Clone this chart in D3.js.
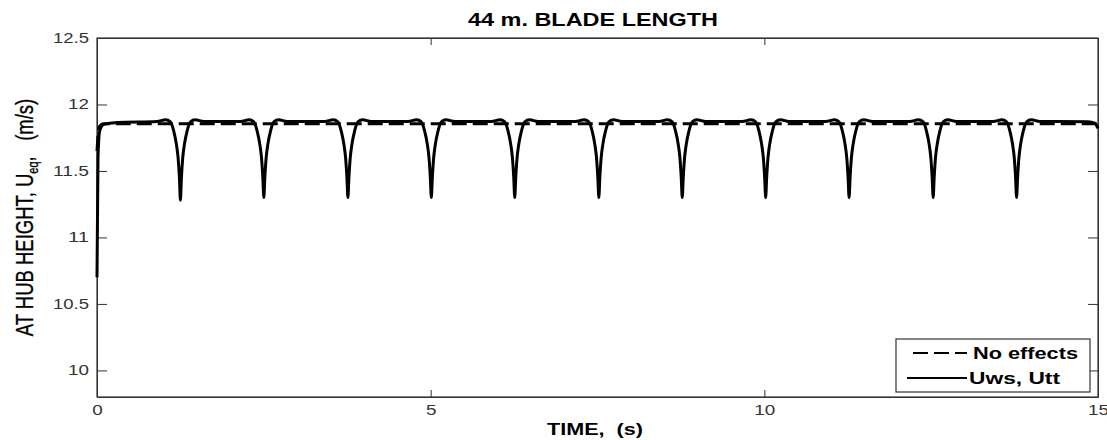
<!DOCTYPE html>
<html>
<head>
<meta charset="utf-8">
<script src="https://cdn.jsdelivr.net/npm/d3@7"></script>
<style>
  body { margin: 0; background: #fff; }
  svg { display: block; font-family: "Liberation Sans", Arial, sans-serif; }
</style>
</head>
<body>
<div id="chart"></div>
<script>
// ---- data ----
var xTicks = [0, 5, 10, 15];
var yTicks = [10, 10.5, 11, 11.5, 12, 12.5];

// "No effects" (dashed)
var noEffTime  = [0, 0.03, 0.1, 15];
var noEffValue = [11.65, 11.83, 11.855, 11.855];

// "Uws, Utt" (solid): start-up, periodic tower dips, end
var startTime  = [0, 0.015, 0.04, 0.1, 0.3];
var startValue = [10.70, 11.60, 11.80, 11.85, 11.865];
var dipTimes   = [1.25, 2.50, 3.76, 5.01, 6.26, 7.52, 8.77, 10.02, 11.27, 12.53, 13.78];
var dipMins    = [11.28, 11.30, 11.30, 11.30, 11.30, 11.30, 11.30, 11.30, 11.30, 11.30, 11.30];
var dipOffset  = [-0.35, -0.22, -0.15, -0.10, -0.06, -0.035, -0.015, 0, 0.015, 0.035, 0.06, 0.10, 0.15, 0.22, 0.35];
var dipShape   = [11.872, 11.885, 11.87, 11.80, 11.70, 11.60, 11.45, null, 11.45, 11.60, 11.70, 11.80, 11.87, 11.885, 11.872];
var endTime    = [14.4, 14.85, 14.95, 15];
var endValue   = [11.872, 11.87, 11.86, 11.82];

(function() {
  var W = 1107, H = 440;
  var margin = {top: 38, right: 9, bottom: 43, left: 97},
      width = W - margin.left - margin.right,
      height = H - margin.top - margin.bottom;

  var svg = d3.select("#chart").append("svg")
      .attr("width", W)
      .attr("height", H);

  var g = svg.append("g")
      .attr("transform", "translate(" + margin.left + "," + margin.top + ")");

  var x = d3.scaleLinear().domain([0, 15]).range([0, width]);
  var y = d3.scaleLinear().domain([9.8, 12.5]).range([height, 0]);

  // build the solid series from the read arrays
  var solid = startTime.map(function(t, i) { return {t: t, v: startValue[i]}; });
  dipTimes.forEach(function(c, k) {
    dipOffset.forEach(function(o, j) {
      solid.push({t: c + o, v: dipShape[j] === null ? dipMins[k] : dipShape[j]});
    });
  });
  endTime.forEach(function(t, i) { solid.push({t: t, v: endValue[i]}); });

  var dashed = noEffTime.map(function(t, i) { return {t: t, v: noEffValue[i]}; });

  var line = d3.line()
    .x(function(d) { return x(d.t); })
    .y(function(d) { return y(d.v); })
    .curve(d3.curveMonotoneX);

  // the original figure is stretched sideways, so text gets a wider length
  function labelWidth(s) {
    var w = 0;
    for (var i = 0; i < s.length; i++) w += (s[i] === "." ? 4.5 : 10.5);
    return w;
  }

  var axisColor = "#333";

  // axes: ticks pointing inward on all four sides
  g.append("g")
    .attr("transform", "translate(0," + height + ")")
    .call(d3.axisBottom(x).tickValues(xTicks).tickSizeInner(-7).tickSizeOuter(0).tickPadding(8)
      .tickFormat(function(d) { return String(d); }));
  g.append("g")
    .call(d3.axisTop(x).tickValues(xTicks).tickSizeInner(-7).tickSizeOuter(0).tickFormat(""));
  g.append("g")
    .call(d3.axisLeft(y).tickValues(yTicks).tickSizeInner(-10).tickSizeOuter(0).tickPadding(8)
      .tickFormat(function(d) { return String(d); }));
  g.append("g")
    .attr("transform", "translate(" + width + ",0)")
    .call(d3.axisRight(y).tickValues(yTicks).tickSizeInner(-10).tickSizeOuter(0).tickFormat(""));

  g.selectAll(".domain").attr("stroke", axisColor);
  g.selectAll(".tick line").attr("stroke", axisColor);
  g.selectAll(".tick text")
    .attr("fill", "#333")
    .attr("font-size", 14)
    .attr("font-family", "'Liberation Sans', Arial, sans-serif")
    .attr("lengthAdjust", "spacingAndGlyphs")
    .attr("textLength", function() { return labelWidth(this.textContent) || null; });

  // frame
  g.append("rect")
    .attr("width", width)
    .attr("height", height)
    .attr("fill", "none")
    .attr("stroke", axisColor)
    .attr("stroke-width", 1.2);

  // lines
  g.append("path")
    .datum(dashed)
    .attr("d", line)
    .attr("fill", "none")
    .attr("stroke", "#000")
    .attr("stroke-width", 3)
    .attr("stroke-dasharray", "15,6");

  g.append("path")
    .datum(solid)
    .attr("d", line)
    .attr("fill", "none")
    .attr("stroke", "#000")
    .attr("stroke-width", 3)
    .attr("stroke-linejoin", "round");

  // title
  svg.append("text")
    .attr("x", 593)
    .attr("y", 26)
    .attr("text-anchor", "middle")
    .attr("font-size", 18)
    .attr("font-weight", "bold")
    .attr("textLength", 250)
    .attr("lengthAdjust", "spacingAndGlyphs")
    .text("44 m. BLADE LENGTH");

  // x label
  svg.append("text")
    .attr("x", 595)
    .attr("y", 435)
    .attr("text-anchor", "middle")
    .attr("font-size", 16.5)
    .attr("font-weight", "bold")
    .attr("textLength", 96)
    .attr("lengthAdjust", "spacingAndGlyphs")
    .attr("xml:space", "preserve")
    .text("TIME,  (s)");

  // y label (rotated, widened across its baseline like the original)
  var yl = svg.append("text")
    .attr("transform", "translate(33," + (margin.top + height / 2) + ") scale(1.3,1) rotate(-90)")
    .attr("text-anchor", "middle")
    .attr("font-size", 18.5)
    .attr("stroke", "#000")
    .attr("stroke-width", 0.25)
    .attr("xml:space", "preserve");
  yl.append("tspan").text("AT HUB HEIGHT, U");
  yl.append("tspan").attr("dy", 4).attr("font-size", 11).text("eq");
  yl.append("tspan").attr("dy", -4).text(",   (m/s)");

  // legend
  var lg = svg.append("g").attr("transform", "translate(896,339)");
  lg.append("rect")
    .attr("width", 194)
    .attr("height", 53)
    .attr("fill", "#fff")
    .attr("stroke", axisColor)
    .attr("stroke-width", 1.2);
  var items = [
    {label: "No effects", dash: "15,6", x1: 17, y: 14, tx: 77, tl: 105},
    {label: "Uws, Utt", dash: null, x1: 11, y: 39, tx: 73, tl: 91}
  ];
  items.forEach(function(it) {
    lg.append("line")
      .attr("x1", it.x1).attr("x2", 71)
      .attr("y1", it.y).attr("y2", it.y)
      .attr("stroke", "#000")
      .attr("stroke-width", 2)
      .attr("stroke-dasharray", it.dash);
    lg.append("text")
      .attr("x", it.tx)
      .attr("y", it.y + 5.5)
      .attr("font-size", 16)
      .attr("font-weight", "bold")
      .attr("textLength", it.tl)
      .attr("lengthAdjust", "spacingAndGlyphs")
      .text(it.label);
  });
})();
</script>
</body>
</html>
